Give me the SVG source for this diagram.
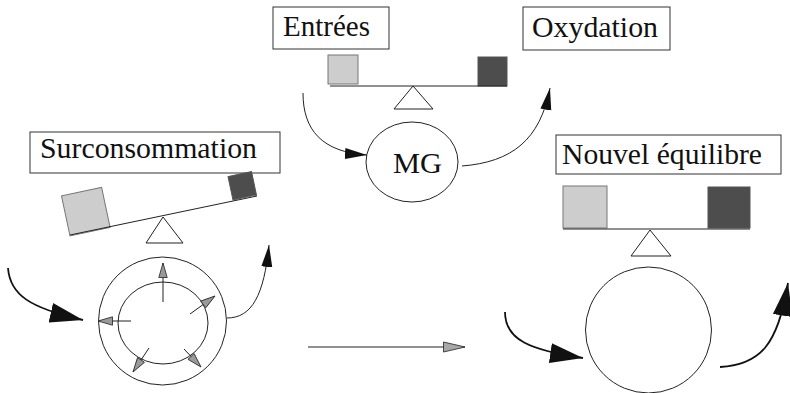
<svg xmlns="http://www.w3.org/2000/svg" width="790" height="393" viewBox="0 0 790 393">
<style>
.box{fill:#fff;stroke:#333;stroke-width:1}
.lbl{font-family:"Liberation Serif","Times New Roman",serif;font-size:29px;fill:#111}
.ln{fill:none;stroke:#222;stroke-width:1}
.lt{fill:#cdcdcd;stroke:#777;stroke-width:1}
.dk{fill:#4d4d4d;stroke:#555;stroke-width:1}
.tri{fill:#fff;stroke:#222;stroke-width:1}
.big{fill:none;stroke:#111;stroke-width:1.8}
.thin{fill:none;stroke:#222;stroke-width:1}
</style>
<defs>
<marker id="hTop" markerUnits="userSpaceOnUse" markerWidth="24" markerHeight="14" refX="22" refY="7" orient="auto" viewBox="0 0 24 14">
<path d="M0,1.5 L22,7 L0,12.5 Z" fill="#111"/>
</marker>
<marker id="hBig" markerUnits="userSpaceOnUse" markerWidth="36" markerHeight="22" refX="33" refY="11" orient="auto" viewBox="0 0 36 22">
<path d="M0,1 L33,11 L0,21 Z" fill="#111"/>
</marker>
<marker id="hSmall" markerUnits="userSpaceOnUse" markerWidth="16" markerHeight="10" refX="15" refY="5" orient="auto" viewBox="0 0 16 10">
<path d="M0.5,0.8 L15,5 L0.5,9.2 Z" fill="#9a9a9a" stroke="#333" stroke-width="0.9"/>
</marker>
<marker id="hMid" markerUnits="userSpaceOnUse" markerWidth="24" markerHeight="12" refX="22" refY="6" orient="auto" viewBox="0 0 24 12">
<path d="M0.5,1 L22,6 L0.5,11 Z" fill="#a8a8a8" stroke="#333" stroke-width="0.9"/>
</marker>
</defs>

<g id="entrees">
<rect class="box" x="273" y="7" width="116" height="42"/>
<text class="lbl" x="283" y="36" textLength="87" lengthAdjust="spacingAndGlyphs">Entrées</text>
</g>
<g id="oxydation">
<rect class="box" x="523" y="7" width="147" height="43"/>
<text class="lbl" x="532" y="37" textLength="126" lengthAdjust="spacingAndGlyphs">Oxydation</text>
</g>
<g id="balance-top">
<rect class="lt" x="328" y="55" width="30" height="29"/>
<rect class="dk" x="478" y="57" width="29" height="29"/>
<line class="ln" x1="330" y1="86" x2="507" y2="86"/>
<polygon class="tri" points="413,86 394,109 433,109"/>
</g>
<g id="mg">
<ellipse class="ln" cx="412" cy="162" rx="46" ry="40"/>
<text class="lbl" x="393" y="173" textLength="49" lengthAdjust="spacingAndGlyphs">MG</text>
</g>

<g id="surconsommation">
<rect class="box" x="30" y="132" width="250" height="41"/>
<text class="lbl" x="40" y="158" textLength="217" lengthAdjust="spacingAndGlyphs">Surconsommation</text>
</g>
<g id="balance-left">
<rect class="lt" x="0" y="-41" width="41" height="41" transform="translate(70,236) rotate(-12)"/>
<rect class="dk" x="0" y="-24" width="24" height="24" transform="translate(233,200) rotate(-12)"/>
<line class="ln" x1="70" y1="235" x2="257" y2="196"/>
<polygon class="tri" points="163,217 146,243 183,243"/>
</g>
<g id="tissue-left">
<circle class="ln" cx="162.5" cy="321" r="64"/>
<ellipse class="ln" cx="163" cy="323" rx="45" ry="41"/>
</g>

<g id="nouvel">
<rect class="box" x="556" y="135" width="225" height="39"/>
<text class="lbl" x="562" y="164" textLength="200" lengthAdjust="spacingAndGlyphs">Nouvel équilibre</text>
</g>
<g id="balance-right">
<rect class="lt" x="563" y="186" width="44" height="42"/>
<rect class="dk" x="708" y="187" width="42" height="41"/>
<line class="ln" x1="563" y1="229" x2="750" y2="229"/>
<polygon class="tri" points="650,230 631,256 671,256"/>
</g>
<g id="tissue-right">
<circle class="ln" cx="648.5" cy="330" r="63"/>
</g>

<g id="connectors">
<path class="thin" d="M303,93 C303,130 322,152 367,155" marker-end="url(#hTop)"/>
<path class="thin" d="M462,166 C512,162 540,140 550,88" marker-end="url(#hTop)"/>
<path class="big" d="M8,268 C10,295 30,308 83,320" marker-end="url(#hBig)"/>
<path class="thin" d="M227,318 C252,318 264,295 269,245" marker-end="url(#hTop)"/>
<line class="thin" x1="163" y1="302" x2="163" y2="263" marker-end="url(#hSmall)"/>
<line class="thin" x1="131" y1="321" x2="98" y2="321" marker-end="url(#hSmall)"/>
<line class="thin" x1="190" y1="314" x2="215" y2="296" marker-end="url(#hSmall)"/>
<line class="thin" x1="184" y1="349" x2="201" y2="367" marker-end="url(#hSmall)"/>
<line class="thin" x1="149" y1="348" x2="133" y2="372" marker-end="url(#hSmall)"/>
<line class="thin" x1="308" y1="347" x2="465" y2="347" stroke="#555" marker-end="url(#hMid)"/>
<path class="big" d="M505,312 C505,340 530,350 583,358" marker-end="url(#hBig)"/>
<path class="big" d="M720,367 C760,365 778,345 788,283" marker-end="url(#hBig)"/>
</g>
</svg>
